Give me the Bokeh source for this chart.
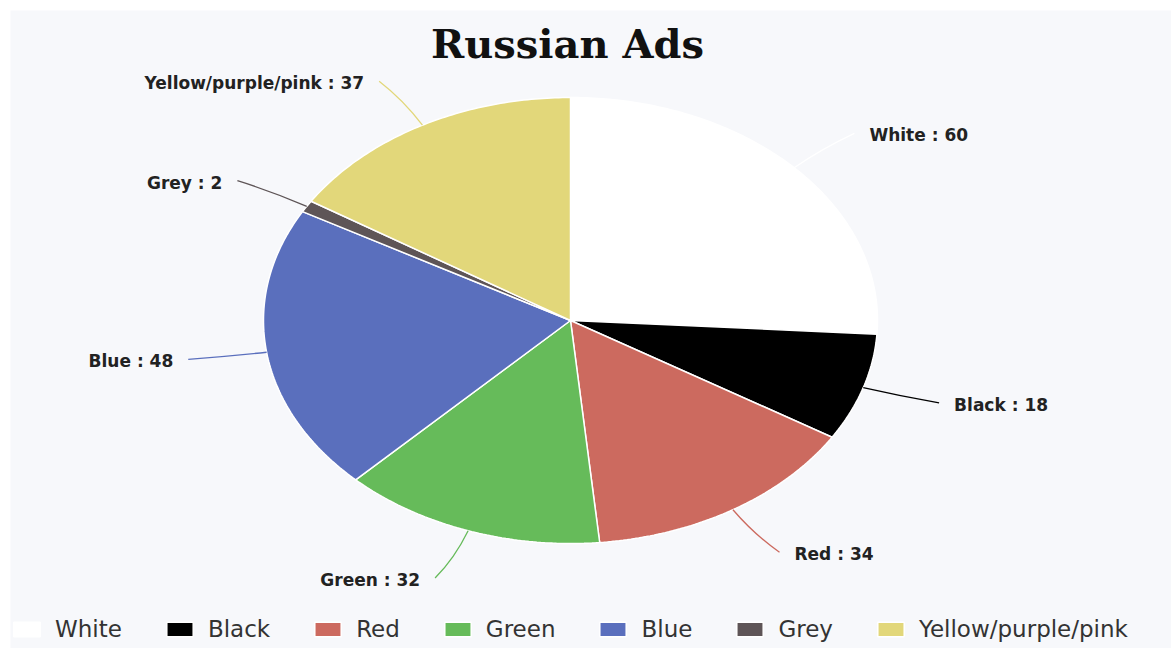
import numpy as np
from bokeh.plotting import figure
from bokeh.models import Range1d, ColumnDataSource, Legend, LegendItem, Label
from bokeh.core.properties import value
from bokeh.embed import file_html
from bokeh.resources import INLINE

# ---- data ----
categories = ["White", "Black", "Red", "Green", "Blue", "Grey", "Yellow/purple/pink"]
counts = [60, 18, 34, 32, 48, 2, 37]
colors = ["#ffffff", "#000000", "#cc6a5f", "#66bb5a", "#5a6fbd", "#5e5557", "#e2d77a"]
title_text = "Russian Ads"

# ---- layout (pixel-like data units) ----
CX, CY = 570.0, 320.0     # pie centre
RX, RY = 307.0, 223.0     # elliptical radii (stretched chart)
K_CTRL, K_END = 1.13, 1.225
SIDE_PUSH, TEXT_GAP = 10.0, 15.0

p = figure(width=1171, height=648, output_backend="svg", toolbar_location=None,
           x_range=Range1d(10, 1171), y_range=Range1d(648, 10),
           min_border_left=10, min_border_top=10, min_border_right=0, min_border_bottom=0,
           background_fill_color="#f7f8fb", border_fill_color="#ffffff")
p.axis.visible = False
p.grid.visible = False
p.outline_line_color = None

total = float(sum(counts))
cum = np.concatenate([[0.0], np.cumsum(counts)])
xs, ys = [], []
mids = []
for i, c in enumerate(counts):
    a0 = np.pi / 2 - 2 * np.pi * cum[i] / total
    a1 = np.pi / 2 - 2 * np.pi * cum[i + 1] / total
    n = max(4, int(abs(a1 - a0) * 80))
    t = np.linspace(a0, a1, n)
    xs.append([CX] + list(CX + RX * np.cos(t)) + [CX])
    ys.append([CY] + list(CY - RY * np.sin(t)) + [CY])
    mids.append((a0 + a1) / 2)

src = ColumnDataSource(dict(xs=xs, ys=ys, color=colors, cat=categories))
r = p.patches("xs", "ys", source=src, fill_color="color", line_color="#ffffff", line_width=1.5)

# leader lines and labels
x0, y0, cx1, cy1, x1, y1, col = [], [], [], [], [], [], []
tx, ty, tt, ta = [], [], [], []
for i, m in enumerate(mids):
    cm, sm = np.cos(m), np.sin(m)
    side = 1.0 if cm >= 0 else -1.0
    sx, sy = CX + RX * cm, CY - RY * sm
    qx, qy = CX + RX * K_CTRL * cm, CY - RY * K_CTRL * sm
    ex, ey = CX + RX * K_END * cm + side * SIDE_PUSH, CY - RY * K_END * sm
    x0.append(sx); y0.append(sy); cx1.append(qx); cy1.append(qy); x1.append(ex); y1.append(ey)
    col.append(colors[i])
    tx.append(ex + side * TEXT_GAP); ty.append(ey + 2)
    tt.append(f"{categories[i]} : {counts[i]}")
    ta.append("left" if side > 0 else "right")

lsrc = ColumnDataSource(dict(x0=x0, y0=y0, cx=cx1, cy=cy1, x1=x1, y1=y1, color=col))
p.quadratic(x0="x0", y0="y0", x1="x1", y1="y1", cx="cx", cy="cy", source=lsrc,
            line_color="color", line_width=1.3)

tsrc = ColumnDataSource(dict(x=tx, y=ty, text=tt, align=ta))
p.text(x="x", y="y", text="text", source=tsrc, text_align="align", text_baseline="middle",
       text_font=value("DejaVu Sans"), text_font_style="bold", text_font_size="17px",
       text_color="#222222")

# title
p.add_layout(Label(x=567, y=43, text=title_text, text_align="center", text_baseline="alphabetic",
                   text_font="DejaVu Serif", text_font_style="bold", text_font_size="40px",
                   text_color="#111111"))

# legend
items = [LegendItem(label=categories[i], renderers=[r], index=i) for i in range(len(categories))]
legend = Legend(items=items, orientation="horizontal", location=(-4, 2),
                glyph_width=33, glyph_height=18, label_standoff=12, spacing=41,
                label_text_font="DejaVu Sans", label_text_font_size="23px",
                label_text_color="#333333", background_fill_alpha=0.0,
                border_line_alpha=0.0, margin=0, padding=4)
p.add_layout(legend)

open("out.html", "w").write(file_html(p, INLINE))
